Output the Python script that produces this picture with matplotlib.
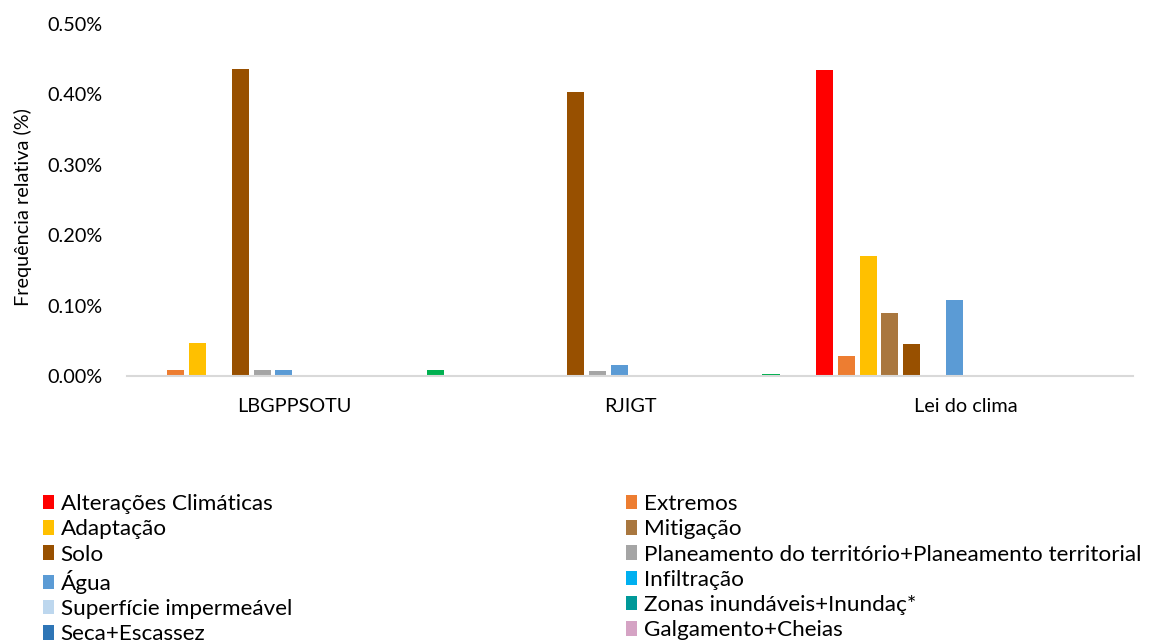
import numpy as np
import matplotlib
matplotlib.use("Agg")
import matplotlib.pyplot as plt

plt.rcParams['font.family'] = ['Lato', 'DejaVu Sans']

groups = ["LBGPPSOTU", "RJIGT", "Lei do clima"]

series = [
    "Alterações Climáticas",
    "Extremos",
    "Adaptação",
    "Mitigação",
    "Solo",
    "Planeamento do território+Planeamento territorial",
    "Água",
    "Infiltração",
    "Superfície impermeável",
    "Zonas inundáveis+Inundaç*",
    "Seca+Escassez",
    "Galgamento+Cheias",
    "Erosão",
    "Espaços verdes",
]

colors = [
    "#FF0000", "#ED7D31", "#FFC000", "#A9773F", "#985000", "#A5A5A5",
    "#5B9BD5", "#00B0F0", "#BDD7EE", "#009999", "#2E75B6", "#D5A3C4",
    "#7F6000", "#00B050",
]

# relative frequency (%) per series, one value per document
values = [
    [0.0, 0.0, 0.435],
    [0.0085, 0.0, 0.0285],
    [0.0474, 0.0, 0.170],
    [0.0, 0.0, 0.090],
    [0.436, 0.403, 0.0455],
    [0.0085, 0.0067, 0.0],
    [0.0085, 0.016, 0.108],
    [0.0, 0.0, 0.0],
    [0.0, 0.0, 0.0],
    [0.0, 0.0, 0.0],
    [0.0, 0.0, 0.0],
    [0.0, 0.0, 0.0],
    [0.0, 0.0, 0.0],
    [0.0085, 0.0035, 0.0],
]

fig = plt.figure(figsize=(11.53, 6.44), dpi=100)
ax = fig.add_axes([0.110, 0.416, 0.873, 0.547])

n = len(series)
pitch = 0.0646
width = 0.0507
x = np.arange(len(groups))
bars = []
for i in range(n):
    b = ax.bar(x + (i - (n - 1) / 2) * pitch, values[i], width,
               color=colors[i], label=series[i])
    bars.append(b)

ax.set_xlim(-0.5, len(groups) - 0.5)
ax.set_ylim(0, 0.5)
ax.set_yticks(np.arange(0, 0.51, 0.1))
ax.set_yticklabels([f"{v:.2f}%" for v in np.arange(0, 0.51, 0.1)])
ax.set_xticks(x)
ax.set_xticklabels(groups)
ax.tick_params(axis="both", length=0, labelsize=14.3, colors="#000000")
ax.tick_params(axis="y", pad=17.5)
ax.tick_params(axis="x", pad=16)
for s in ["top", "right", "left"]:
    ax.spines[s].set_visible(False)
ax.spines["bottom"].set_color("#D9D9D9")
ax.spines["bottom"].set_linewidth(1.5)
ax.set_ylabel("Frequência relativa (%)", fontsize=14.3)
ax.yaxis.set_label_coords(-0.094, 0.48)

# legend laid out row by row in two columns
left = [bars[i] for i in range(0, n, 2)]
right = [bars[i] for i in range(1, n, 2)]
kw = dict(frameon=False, fontsize=16.2, handlelength=0.5, handleheight=0.62,
          handletextpad=0.3, labelspacing=0.235, borderpad=0, borderaxespad=0,
          loc="upper left")
leg1 = fig.legend(left, [series[i] for i in range(0, n, 2)],
                  bbox_to_anchor=(0.037, 0.233), **kw)
leg2 = fig.legend(right, [series[i] for i in range(1, n, 2)],
                  bbox_to_anchor=(0.543, 0.233), **kw)

plt.savefig("out.png", dpi=100)
plt.close()
